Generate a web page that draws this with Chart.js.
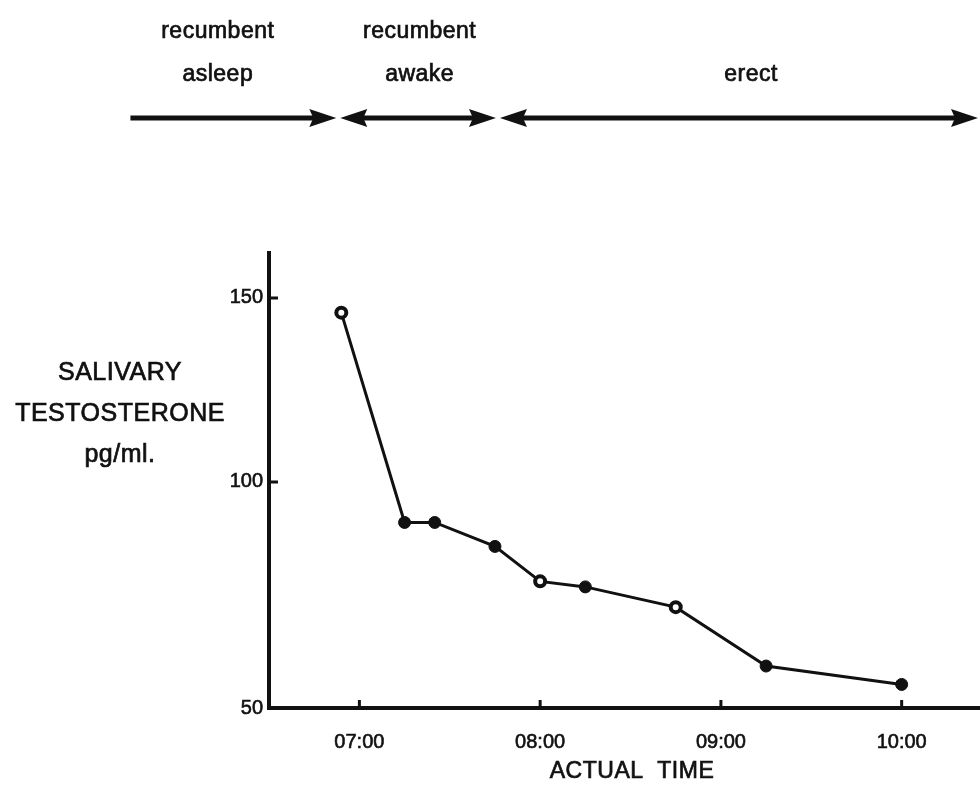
<!DOCTYPE html>
<html>
<head>
<meta charset="utf-8">
<style>
  html, body { margin: 0; padding: 0; background: #fff; }
  #wrap { width: 980px; height: 802px; position: relative; }
</style>
<script src="https://cdn.jsdelivr.net/npm/chart.js@4.4.0/dist/chart.umd.min.js"></script>
</head>
<body>
<div id="wrap"><canvas id="chart"></canvas></div>
<script>
// sampling times and salivary testosterone (pg/ml)
const sampleTimes = ['06:54', '07:15', '07:25', '07:45', '08:00', '08:15', '08:45', '09:15', '10:00'];
const testosterone = [146, 89, 89, 82.5, 73, 71.5, 66, 50, 45];
const openMarker = [true, false, false, false, true, false, true, false, false];

// axes
const xTickTimes = ['07:00', '08:00', '09:00', '10:00'];
const xRange = ['06:30', '10:26'];
const yAxisMin = 38.6;
const yAxisMax = 162.2;
const yTickValues = [yAxisMin, 100, 150];
const yTickLabels = ['50', '100', '150'];

// posture phases across the morning
const phaseLabels = [['recumbent', 'asleep'], ['recumbent', 'awake'], ['erect']];
const phaseStart = ['05:44', '06:53', '07:46'];
const phaseEnd = ['06:53', '07:46', '10:26'];
const phaseLabelAt = ['06:13', '07:20', '09:10'];
const phaseHeads = [[false, true], [true, true], [true, true]];

const FONT = '"Liberation Sans", Arial, Helvetica, sans-serif';
const INK = '#111';

function toMin(t) {
  const [h, m] = t.split(':').map(Number);
  return h * 60 + m;
}
function fmt(min) {
  const h = Math.floor(min / 60), m = Math.round(min % 60);
  return String(h).padStart(2, '0') + ':' + String(m).padStart(2, '0');
}

function arrowHead(ctx, tipX, y, dir) {
  const len = 27, half = 9;
  ctx.beginPath();
  ctx.moveTo(tipX, y);
  ctx.lineTo(tipX - dir * len, y - half);
  ctx.lineTo(tipX - dir * len + dir * 4, y);
  ctx.lineTo(tipX - dir * len, y + half);
  ctx.closePath();
  ctx.fill();
}

// filled text with a thin outline so it reads a little heavier
function label(ctx, s, x, y) {
  ctx.fillText(s, x, y);
  ctx.strokeText(s, x, y);
}

const decorations = {
  id: 'decorations',
  afterDraw(chart) {
    const { ctx, chartArea, scales: { x, y } } = chart;
    ctx.save();
    ctx.fillStyle = INK;
    ctx.strokeStyle = INK;

    // inward tick marks
    ctx.lineWidth = 3;
    ctx.beginPath();
    y.ticks.forEach(t => {
      if (t.value === yAxisMin) return;
      const py = y.getPixelForValue(t.value);
      ctx.moveTo(chartArea.left, py);
      ctx.lineTo(chartArea.left + 9, py);
    });
    x.ticks.forEach(t => {
      const px = x.getPixelForValue(t.value);
      ctx.moveTo(px, chartArea.bottom);
      ctx.lineTo(px, chartArea.bottom - 8);
    });
    ctx.stroke();

    ctx.textAlign = 'center';
    ctx.textBaseline = 'middle';
    ctx.lineWidth = 0.7;

    // y axis title
    ctx.font = '25px ' + FONT;
    ctx.letterSpacing = '0.5px';
    ['SALIVARY', 'TESTOSTERONE', 'pg/ml.'].forEach((s, i) => {
      label(ctx, s, 120, 373 + i * 41);
    });

    // x axis title
    ctx.font = '23px ' + FONT;
    label(ctx, 'ACTUAL  TIME', 632, 772);

    // phase labels and arrows
    ctx.font = '23px ' + FONT;
    ctx.letterSpacing = '0.5px';
    const arrowY = 118;
    phaseLabels.forEach((lines, i) => {
      const cx = x.getPixelForValue(toMin(phaseLabelAt[i]));
      if (lines.length === 2) {
        label(ctx, lines[0], cx, 32);
        label(ctx, lines[1], cx, 75);
      } else {
        label(ctx, lines[0], cx, 75);
      }
      const x0 = x.getPixelForValue(toMin(phaseStart[i])) + (i ? 2 : 0);
      const x1 = x.getPixelForValue(toMin(phaseEnd[i])) - 2;
      ctx.save();
      ctx.lineWidth = 5;
      ctx.beginPath();
      ctx.moveTo(x0 + (phaseHeads[i][0] ? 15 : 0), arrowY);
      ctx.lineTo(x1 - 15, arrowY);
      ctx.stroke();
      ctx.restore();
      if (phaseHeads[i][0]) arrowHead(ctx, x0, arrowY, -1);
      if (phaseHeads[i][1]) arrowHead(ctx, x1, arrowY, 1);
    });
    ctx.restore();
  }
};

new Chart(document.getElementById('chart'), {
  type: 'line',
  data: {
    datasets: [{
      data: sampleTimes.map((t, i) => ({ x: toMin(t), y: testosterone[i] })),
      borderColor: INK,
      borderWidth: 3,
      pointRadius: openMarker.map(o => o ? 5 : 6),
      pointBorderWidth: openMarker.map(o => o ? 4 : 1),
      pointBackgroundColor: openMarker.map(o => o ? '#fff' : INK),
      pointBorderColor: INK,
      tension: 0,
      clip: false
    }]
  },
  options: {
    responsive: true,
    maintainAspectRatio: false,
    animation: false,
    layout: { autoPadding: false, padding: { top: 253, right: 0, left: 0, bottom: 0 } },
    plugins: { legend: { display: false }, tooltip: { enabled: false } },
    scales: {
      x: {
        type: 'linear',
        min: toMin(xRange[0]),
        max: toMin(xRange[1]),
        afterBuildTicks: s => { s.ticks = xTickTimes.map(t => ({ value: toMin(t) })); },
        afterFit: s => { s.height = 94; },
        grid: { display: false, drawTicks: false },
        border: { display: true, color: INK, width: 4 },
        ticks: {
          color: INK,
          padding: 22,
          maxRotation: 0,
          textStrokeColor: INK,
          textStrokeWidth: 0.6,
          font: { family: FONT, size: 20 },
          callback: v => fmt(v)
        }
      },
      y: {
        type: 'linear',
        min: yAxisMin,
        max: yAxisMax,
        afterBuildTicks: s => { s.ticks = yTickValues.map(v => ({ value: v })); },
        afterFit: s => { s.width = 269; },
        grid: { display: false, drawTicks: false },
        border: { display: true, color: INK, width: 4 },
        ticks: {
          color: INK,
          padding: 6,
          textStrokeColor: INK,
          textStrokeWidth: 0.6,
          font: { family: FONT, size: 20 },
          callback: (v, i) => yTickLabels[i]
        }
      }
    }
  },
  plugins: [decorations]
});
</script>
</body>
</html>
